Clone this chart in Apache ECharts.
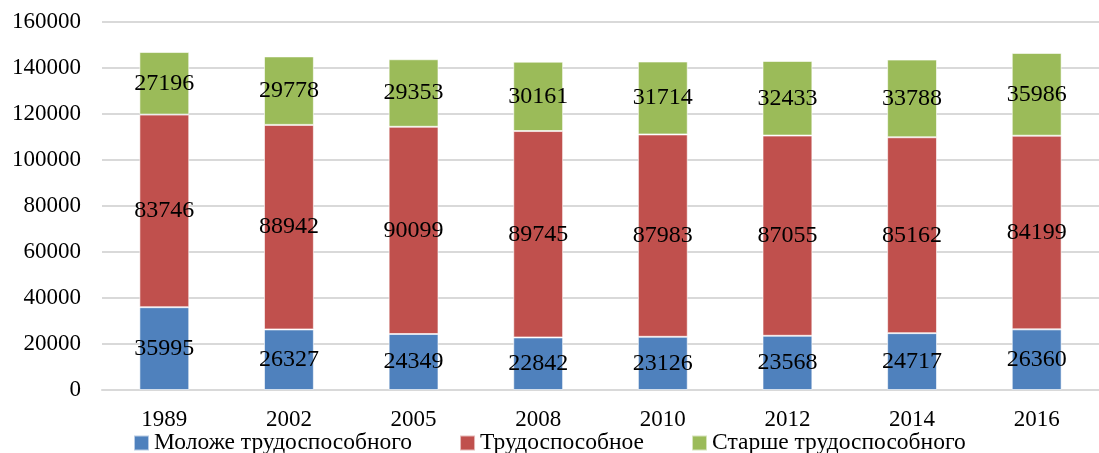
<!DOCTYPE html>
<html>
<head>
<meta charset="utf-8">
<script src="https://cdn.jsdelivr.net/npm/echarts@6/dist/echarts.min.js"></script>
<style>
  html, body { margin: 0; padding: 0; background: #fff; }
  #chart { width: 1099px; height: 453px; }
</style>
</head>
<body>
<div id="chart"></div>
<script>
// Population by age group (thousand people), census / estimate years
const years = ['1989', '2002', '2005', '2008', '2010', '2012', '2014', '2016'];
const seriesNames = ['Моложе трудоспособного', 'Трудоспособное', 'Старше трудоспособного'];
const younger = [35995, 26327, 24349, 22842, 23126, 23568, 24717, 26360];
const working = [83746, 88942, 90099, 89745, 87983, 87055, 85162, 84199];
const older = [27196, 29778, 29353, 30161, 31714, 32433, 33788, 35986];
const colors = ['#4F81BD', '#C0504D', '#9BBB59'];

const FONT = "'Liberation Serif', 'Times New Roman', serif";

function stackSeries(name, data, color) {
  return {
    name: name,
    type: 'bar',
    stack: 'total',
    data: data,
    barWidth: '40%',
    itemStyle: { color: color, borderColor: 'rgba(255,255,255,0.6)', borderWidth: 1 },
    label: {
      show: true,
      position: 'inside',
      color: '#000',
      fontFamily: FONT,
      fontSize: 24
    }
  };
}

const chart = echarts.init(document.getElementById('chart'), null, { renderer: 'canvas' });
chart.setOption({
  animation: false,
  textStyle: { fontFamily: FONT },
  grid: { left: 102, top: 22, width: 1011, height: 368 },
  legend: {
    data: seriesNames,
    left: 128,
    top: 426,
    itemWidth: 15,
    itemHeight: 15,
    itemGap: 47,
    icon: 'rect',
    textStyle: { fontFamily: FONT, fontSize: 23.5, color: '#000' }
  },
  xAxis: {
    type: 'category',
    data: years,
    axisLine: { show: true, lineStyle: { color: '#d9d9d9', width: 2 } },
    axisTick: { show: false },
    axisLabel: { color: '#000', fontFamily: FONT, fontSize: 23, margin: 18 }
  },
  yAxis: {
    type: 'value',
    min: 0,
    max: 160000,
    interval: 20000,
    axisLine: { show: false },
    axisTick: { show: false },
    splitLine: { lineStyle: { color: '#d9d9d9', width: 2 } },
    axisLabel: {
      color: '#000', fontFamily: FONT, fontSize: 23, margin: 21,
      formatter: function (v) { return String(v); }
    }
  },
  series: [
    stackSeries(seriesNames[0], younger, colors[0]),
    stackSeries(seriesNames[1], working, colors[1]),
    stackSeries(seriesNames[2], older, colors[2])
  ]
});
</script>
</body>
</html>
